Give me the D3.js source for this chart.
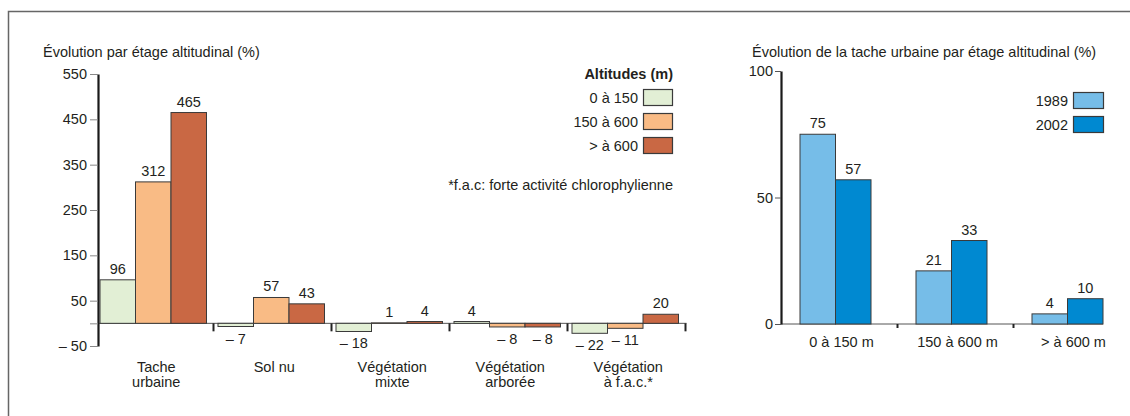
<!DOCTYPE html>
<html><head><meta charset="utf-8">
<script src="https://cdn.jsdelivr.net/npm/d3@7"></script>
<style>
body{margin:0;background:#fff}
svg{display:block}
text{font-family:"Liberation Sans",Arial,Helvetica,sans-serif;fill:#231f20;font-size:14.5px}
</style>
</head><body><svg id="c" width="1130" height="416"></svg>
<script>
// ---------- Data ----------
const categories = ["Tache urbaine","Sol nu","Végétation mixte","Végétation arborée","Végétation à f.a.c.*"];
const categoryLines = [["Tache","urbaine"],["Sol nu"],["Végétation","mixte"],["Végétation","arborée"],["Végétation","à f.a.c.*"]];
const altitudes = ["0 à 150","150 à 600","> à 600"];
const alt0_150   = [96, -7, -18, 4, -22];
const alt150_600 = [312, 57, 1, -8, -11];
const altSup600  = [465, 43, 4, -8, 20];
const leftTicks = [550, 450, 350, 250, 150, 50, 0, -50];

const tranches = ["0 à 150 m","150 à 600 m","> à 600 m"];
const years = ["1989","2002"];
const urb1989 = [75, 21, 4];
const urb2002 = [57, 33, 10];
const rightTicks = [100, 50, 0];

const altColors = ["#e2efd5","#f9bb85","#c96844"];
const yearColors = ["#76bde8","#0089d1"];
const FS = "14.5px";

const svg = d3.select("#c");
svg.append("rect").attr("width",1130).attr("height",416).attr("fill","#fff");
// frame
svg.append("path").attr("d","M8.5,416V11.5H1130").attr("fill","none").attr("stroke","#666").attr("stroke-width",1.5);

const fmt = v => v < 0 ? "– " + Math.abs(v) : String(v);

// ---------- Left chart ----------
const altSeries = [alt0_150, alt150_600, altSup600];
const leftData = categories.map((c,i)=>({cat:c, lines:categoryLines[i], vals:altitudes.map((a,j)=>({key:a, j, v:altSeries[j][i]}))}));

const y = d3.scaleLinear().domain([-50,550]).range([346,74]);
const x0 = d3.scaleBand().domain(categories).range([100,678.5]).paddingInner(11.5/118).paddingOuter(0);
const x1 = d3.scaleBand().domain(altitudes).range([0,x0.bandwidth()]).padding(0);

svg.append("text").attr("x",43).attr("y",57).text("Évolution par étage altitudinal (%)");

// baseline
svg.append("line").attr("x1",98).attr("x2",x0.range()[1]+8).attr("y1",y(0)).attr("y2",y(0))
  .attr("stroke","#555").attr("stroke-width",1);

const yAxis = d3.axisLeft(y).tickValues(leftTicks).tickSize(8).tickPadding(3).tickSizeOuter(0)
  .tickFormat(d => d === 0 ? "" : fmt(d));
const ga = svg.append("g").attr("transform","translate(98,0)").call(yAxis);
ga.selectAll("text").style("font-size",FS).attr("fill","#231f20").style("font-family",'"Liberation Sans",Arial,sans-serif');
ga.selectAll(".tick line").attr("stroke","#888");
ga.select(".domain").attr("stroke","#1a1a1a").attr("stroke-width",2.2);

const groups = svg.append("g").selectAll("g").data(leftData).join("g")
  .attr("transform", d => `translate(${x0(d.cat)},0)`);
groups.selectAll("rect").data(d=>d.vals).join("rect")
  .attr("x", d => x1(d.key)).attr("width", x1.bandwidth())
  .attr("y", d => y(Math.max(0,d.v))).attr("height", d => Math.abs(y(d.v)-y(0)))
  .attr("fill", d => altColors[d.j]).attr("stroke","#3a3a3a").attr("stroke-width",1);
groups.selectAll("text.val").data(d=>d.vals).join("text").attr("class","val")
  .attr("x", d => x1(d.key)+x1.bandwidth()/2).attr("text-anchor","middle")
  .attr("y", d => d.v >= 0 ? y(d.v)-6 : y(d.v)+17).text(d => fmt(d.v));
// separators
groups.append("line").attr("x1",x0.bandwidth()+7).attr("x2",x0.bandwidth()+7)
  .attr("y1",y(0)).attr("y2",y(0)+8).attr("stroke","#222").attr("stroke-width",2);
// category labels
groups.each(function(d){
  const t = d3.select(this).append("text").attr("text-anchor","middle");
  d.lines.forEach((l,k)=>t.append("tspan").attr("x",x0.bandwidth()/2+3).attr("y",371.5+k*15.5).text(l));
});

// left legend
svg.append("text").attr("x",673).attr("y",79).attr("text-anchor","end").attr("font-weight","bold").text("Altitudes (m)");
altitudes.forEach((a,j)=>{
  const yy = 89 + j*24;
  svg.append("rect").attr("x",643.5).attr("y",yy+0.5).attr("width",29).attr("height",16)
    .attr("fill",altColors[j]).attr("stroke","#3a3a3a").attr("stroke-width",1.2);
  svg.append("text").attr("x",638).attr("y",yy+13.5).attr("text-anchor","end").text(a);
});
svg.append("text").attr("x",673).attr("y",190).attr("text-anchor","end").text("*f.a.c: forte activité chlorophylienne");

// ---------- Right chart ----------
const yR = d3.scaleLinear().domain([0,100]).range([324,71]);
const xR0 = d3.scaleBand().domain(tranches).range([800,1103]).paddingInner(45/116).paddingOuter(0);
const xR1 = d3.scaleBand().domain(years).range([0,xR0.bandwidth()]).padding(0);
const yearSeries = [urb1989, urb2002];
const rightData = tranches.map((t,i)=>({t, vals:years.map((yv,j)=>({key:yv, j, v:yearSeries[j][i]}))}));

svg.append("text").attr("x",752).attr("y",57).text("Évolution de la tache urbaine par étage altitudinal (%)");

svg.append("line").attr("x1",781).attr("x2",1103).attr("y1",yR(0)).attr("y2",yR(0))
  .attr("stroke","#555").attr("stroke-width",1);

const yAxisR = d3.axisLeft(yR).tickValues(rightTicks).tickSize(6).tickPadding(2).tickSizeOuter(0);
const gr = svg.append("g").attr("transform","translate(781,0)").call(yAxisR);
gr.selectAll("text").style("font-size",FS).attr("fill","#231f20").style("font-family",'"Liberation Sans",Arial,sans-serif');
gr.selectAll(".tick line").attr("stroke","#555");
gr.select(".domain").attr("stroke","#1a1a1a").attr("stroke-width",2.2);

const rg = svg.append("g").selectAll("g").data(rightData).join("g")
  .attr("transform", d => `translate(${xR0(d.t)},0)`);
rg.selectAll("rect").data(d=>d.vals).join("rect")
  .attr("x", d => xR1(d.key)).attr("width", xR1.bandwidth())
  .attr("y", d => yR(d.v)).attr("height", d => yR(0)-yR(d.v))
  .attr("fill", d => yearColors[d.j]).attr("stroke","#3a3a3a").attr("stroke-width",1);
rg.selectAll("text.val").data(d=>d.vals).join("text").attr("class","val")
  .attr("x", d => xR1(d.key)+xR1.bandwidth()/2).attr("text-anchor","middle")
  .attr("y", d => yR(d.v)-6).text(d => d.v);
rg.append("text").attr("x",xR0.bandwidth()/2+6).attr("y",347).attr("text-anchor","middle").text(d=>d.t);
// separators
tranches.slice(1).forEach(t=>{
  const xs = xR0(t) - (xR0.step()-xR0.bandwidth())/2 + 4;
  svg.append("line").attr("x1",xs).attr("x2",xs).attr("y1",yR(0)).attr("y2",yR(0)+4)
    .attr("stroke","#222").attr("stroke-width",2);
});

// right legend
years.forEach((yv,j)=>{
  const yy = 92 + j*24;
  svg.append("rect").attr("x",1073.5).attr("y",yy+0.5).attr("width",30).attr("height",16)
    .attr("fill",yearColors[j]).attr("stroke","#3a3a3a").attr("stroke-width",1.2);
  svg.append("text").attr("x",1068).attr("y",yy+14).attr("text-anchor","end").text(yv);
});
</script>
</body></html>
